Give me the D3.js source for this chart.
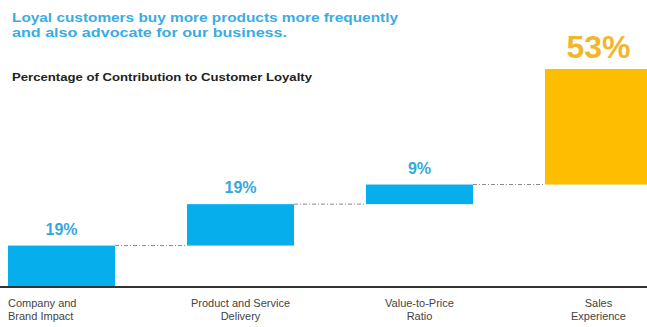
<!DOCTYPE html>
<html>
<head>
<meta charset="utf-8">
<script src="https://cdn.jsdelivr.net/npm/d3@7"></script>
<style>
  body { margin: 0; background: #fff; }
  svg { display: block; font-family: "Liberation Sans", Arial, sans-serif; }
</style>
</head>
<body>
<div id="chart"></div>
<script>
// chart data
var categories = ["Company and Brand Impact", "Product and Service Delivery", "Value-to-Price Ratio", "Sales Experience"];
var tickLabels = [["Company and", "Brand Impact"], ["Product and Service", "Delivery"], ["Value-to-Price", "Ratio"], ["Sales", "Experience"]];
var values = [19, 19, 9, 53];
var titleLines = ["Loyal customers buy more products more frequently", "and also advocate for our business."];
var subtitle = "Percentage of Contribution to Customer Loyalty";

var width = 647, height = 327;

// running totals for the waterfall
var acc = 0;
var steps = values.map(function(v, i) {
  var s = { cat: categories[i], value: v, start: acc, end: acc + v, i: i };
  acc += v;
  return s;
});

var svg = d3.select("#chart").append("svg")
  .attr("width", width)
  .attr("height", height);

var x = d3.scaleBand()
  .domain(categories)
  .range([8, 652])
  .paddingInner(0.402)
  .paddingOuter(0);

var y = d3.scaleLinear()
  .domain([0, 100])
  .range([287, 69]);

// titles
svg.append("g").selectAll("text")
  .data(titleLines)
  .enter().append("text")
  .attr("x", 12)
  .attr("y", (d, i) => 22 + i * 15)
  .attr("fill", "#3aace2")
  .style("font-size", "13px")
  .style("font-weight", "bold")
  .attr("textLength", (d, i) => i === 0 ? 386 : 275)
  .attr("lengthAdjust", "spacingAndGlyphs")
  .text(d => d);

svg.append("text")
  .attr("x", 12)
  .attr("y", 81)
  .attr("fill", "#222")
  .style("font-size", "10.5px")
  .style("font-weight", "bold")
  .attr("textLength", 300)
  .attr("lengthAdjust", "spacingAndGlyphs")
  .text(subtitle);

// connectors between bars
svg.append("g").selectAll("line")
  .data(steps.slice(0, -1))
  .enter().append("line")
  .attr("x1", d => x(d.cat) + x.bandwidth())
  .attr("x2", d => x(categories[d.i + 1]))
  .attr("y1", d => y(d.end))
  .attr("y2", d => y(d.end))
  .attr("stroke", "#8a8a8a")
  .attr("stroke-width", 1)
  .attr("stroke-dasharray", "4,2,1,2");

// bars
var last = values.length - 1;
svg.append("g").selectAll("rect")
  .data(steps)
  .enter().append("rect")
  .attr("x", d => x(d.cat))
  .attr("y", d => y(d.end))
  .attr("width", x.bandwidth())
  .attr("height", d => y(d.start) - y(d.end))
  .attr("fill", d => d.i === last ? "#ffbd00" : "#06aeec");

// value labels
svg.append("g").selectAll("text")
  .data(steps)
  .enter().append("text")
  .attr("x", d => x(d.cat) + x.bandwidth() / 2)
  .attr("y", d => y(d.end) - (d.i === last ? 11 : 11))
  .attr("text-anchor", "middle")
  .attr("fill", d => d.i === last ? "#f2b62c" : "#33a8dc")
  .style("font-size", d => d.i === last ? "32px" : "16px")
  .style("font-weight", "bold")
  .text(d => d.value + "%");

// baseline
svg.append("line")
  .attr("x1", 0).attr("x2", width)
  .attr("y1", y(0)).attr("y2", y(0))
  .attr("stroke", "#333")
  .attr("stroke-width", 2);

// category labels
var ticks = svg.append("g").selectAll("text")
  .data(steps)
  .enter().append("text")
  .attr("text-anchor", d => d.i === 0 ? "start" : "middle")
  .attr("x", d => d.i === 0 ? x(d.cat) : x(d.cat) + x.bandwidth() / 2)
  .attr("fill", "#444")
  .style("font-size", "11px");

ticks.selectAll("tspan")
  .data(d => tickLabels[d.i])
  .enter().append("tspan")
  .attr("x", function() { return d3.select(this.parentNode).attr("x"); })
  .attr("y", (d, i) => 307 + i * 13)
  .text(d => d);
</script>
</body>
</html>
